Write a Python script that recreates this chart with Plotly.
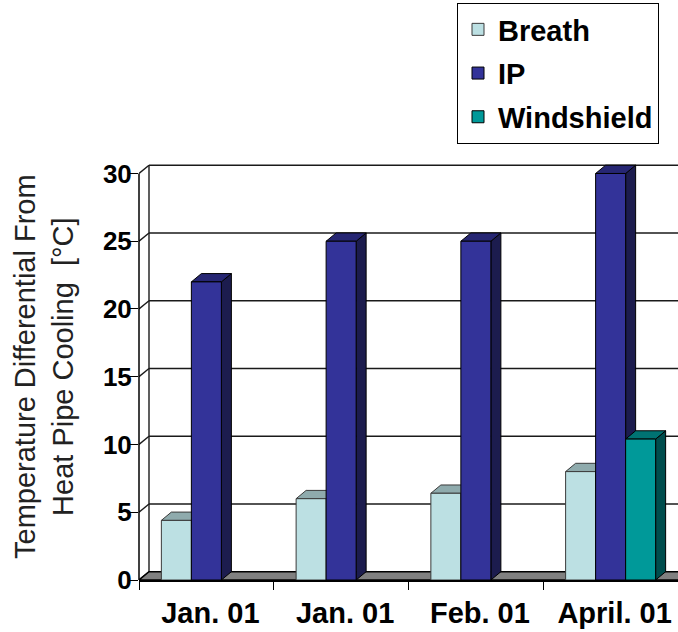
import plotly.graph_objects as go

# ---------------- data ----------------
categories = ["Jan. 01", "Jan. 01", "Feb. 01", "April. 01"]
series_names = ["Breath", "IP", "Windshield"]
breath = [4.4, 6.0, 6.4, 8.0]
ip = [22, 25, 25, 30]
windshield = [None, None, None, 10.4]
y_tick_values = [0, 5, 10, 15, 20, 25, 30]
y_title = "Temperature Differential From<br>Heat Pipe Cooling \u00a0[°C]"

# ---------------- styles ----------------
front_colors = ["#BCE0E3", "#333399", "#009999"]
top_colors = ["#8FABAD", "#262673", "#007373"]
side_colors = ["#7F9A9C", "#1C1C4E", "#004D4D"]
edge_colors = ["#3A3A3A", "#000000", "#000000"]

W, H = 678, 632
M_L, M_R, M_T, M_B = 139, 0, 164, 52
X_MIN, X_MAX = -0.5, len(categories) - 0.5
Y_MIN, Y_MAX = 0, 30.7
plot_w = W - M_L - M_R
plot_h = H - M_T - M_B
px_x = plot_w / (X_MAX - X_MIN)
px_y = plot_h / (Y_MAX - Y_MIN)
DX = 10 / px_x        # depth offset in x units
DY = 8.3 / px_y       # depth offset in y units
BARGAP = 0.332
group_w = 1 - BARGAP
bw = group_w / len(series_names)

xs = list(range(len(categories)))
all_series = [breath, ip, windshield]

fig = go.Figure()
for k, (name, vals) in enumerate(zip(series_names, all_series)):
    fig.add_trace(go.Bar(
        name=name, x=xs, y=vals, legendgroup=name,
        width=bw, offset=-group_w / 2 + k * bw,
        marker=dict(color=front_colors[k], line=dict(color=edge_colors[k], width=1)),
    ))

shapes = []
GRID = dict(color="#1a1a1a", width=1.4)
# back wall gridlines + side wall diagonals
for v in y_tick_values:
    if v > 0:
        shapes.append(dict(type="line", xref="x", yref="y", layer="below",
                           x0=X_MIN + DX, y0=v + DY, x1=X_MAX + DX, y1=v + DY, line=GRID))
    shapes.append(dict(type="line", xref="x", yref="y", layer="below",
                       x0=X_MIN, y0=v, x1=X_MIN + DX, y1=v + DY, line=GRID))
# back wall left edge
shapes.append(dict(type="line", xref="x", yref="y", layer="below",
                   x0=X_MIN + DX, y0=DY, x1=X_MIN + DX, y1=max(y_tick_values) + DY, line=GRID))
# floor
shapes.append(dict(type="path", xref="x", yref="y", layer="below",
                   path=f"M{X_MIN},0 L{X_MAX + DX},0 L{X_MAX + DX},{DY} L{X_MIN + DX},{DY} Z",
                   fillcolor="#808080", line=dict(color="#000000", width=1.5)))
# front vertical edge (0..30)
shapes.append(dict(type="line", xref="paper", yref="y", layer="above",
                   x0=0, y0=0, x1=0, y1=max(y_tick_values), line=dict(color="#000000", width=1.5)))

# 3D top and side faces of bars
for k, vals in enumerate(all_series):
    for i, v in enumerate(vals):
        if v is None:
            continue
        x0 = i - group_w / 2 + k * bw
        x1 = x0 + bw
        ln = dict(color=edge_colors[k], width=1)
        shapes.append(dict(type="path", xref="x", yref="y", layer="below",
                           path=f"M{x1},0 L{x1 + DX},{DY} L{x1 + DX},{v + DY} L{x1},{v} Z",
                           fillcolor=side_colors[k], line=ln))
        shapes.append(dict(type="path", xref="x", yref="y", layer="below",
                           path=f"M{x0},{v} L{x1},{v} L{x1 + DX},{v + DY} L{x0 + DX},{v + DY} Z",
                           fillcolor=top_colors[k], line=ln))

BOLD = dict(family="Liberation Sans, Arial, sans-serif", weight="bold", color="#000000")

fig.update_layout(
    width=W, height=H,
    margin=dict(l=M_L, r=M_R, t=M_T, b=M_B, pad=0, autoexpand=False),
    paper_bgcolor="white", plot_bgcolor="white",
    barmode="overlay",
    shapes=shapes,
    showlegend=True,
    legend=dict(
        xref="container", yref="container", x=457 / W, y=1 - 3 / H,
        xanchor="left", yanchor="top",
        bordercolor="#000000", borderwidth=1, bgcolor="white",
        font=dict(size=29, **BOLD),
        itemwidth=30, tracegroupgap=3, traceorder="grouped", entrywidth=170,
    ),
    xaxis=dict(
        range=[X_MIN, X_MAX], tickmode="array", tickvals=xs, ticktext=categories,
        ticks="", showgrid=False, zeroline=False, automargin=False, tickangle=0,
        showline=True, linecolor="#000000", linewidth=1.5,
        tickfont=dict(size=29, **BOLD),
        ticklabelstandoff=6, ticklabelshift=4,
        minor=dict(tick0=X_MIN, dtick=1, ticks="outside", ticklen=8, tickwidth=1.4,
                   tickcolor="#000000", showgrid=False),
    ),
    yaxis=dict(
        range=[Y_MIN, Y_MAX], tickmode="array", tickvals=y_tick_values,
        ticks="outside", ticklen=8, tickwidth=1.4, tickcolor="#000000",
        showgrid=False, zeroline=False, showline=False, automargin=False,
        tickfont=dict(size=26, **BOLD), ticklabelstandoff=-7,
    ),
    annotations=[dict(
        text=y_title, textangle=-90, showarrow=False,
        xref="paper", yref="paper",
        x=(44 - M_L) / plot_w, y=(H - M_B - 367) / plot_h,
        xanchor="center", yanchor="middle",
        font=dict(family="Liberation Sans, Arial, sans-serif", size=29, color="#222222"),
    )],
)

fig.write_html("out.html", config={"displayModeBar": False},
               post_script="document.body.style.margin='0px';")
